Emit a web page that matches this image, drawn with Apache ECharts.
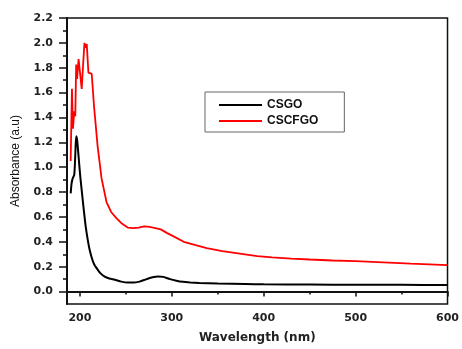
<!DOCTYPE html>
<html>
<head>
<meta charset="utf-8">
<script src="https://cdn.jsdelivr.net/npm/echarts@6/dist/echarts.min.js"></script>
<style>html,body{margin:0;padding:0;background:#fff;}#c{width:462px;height:349px;}</style>
</head>
<body>
<div id="c"></div>
<script>
// Series names
const seriesNames = ['CSGO', 'CSCFGO'];

// CSGO (black)
const csgoWl  = [190, 191, 192.2, 193.9, 194.8, 195.5, 196.1, 197, 198, 199, 200.5, 202.5, 204.5, 206.4, 208.5, 210.5, 213, 215.5, 218, 222, 227, 232, 238, 245, 252, 258, 265, 272, 279, 285, 291, 298, 305, 312, 320, 330, 350, 380, 400, 450, 500, 550, 600];
const csgoVal = [0.79, 0.87, 0.91, 0.94, 1.06, 1.19, 1.25, 1.22, 1.14, 1.05, 0.92, 0.78, 0.64, 0.52, 0.42, 0.34, 0.27, 0.22, 0.19, 0.15, 0.12, 0.105, 0.095, 0.08, 0.072, 0.072, 0.08, 0.098, 0.115, 0.122, 0.118, 0.10, 0.087, 0.078, 0.073, 0.069, 0.064, 0.06, 0.058, 0.056, 0.055, 0.054, 0.053];

// CSCFGO (red)
const cscfgoWl  = [190, 191.4, 192.5, 193.9, 195, 196, 197, 198.6, 200.3, 202, 203.5, 205, 206.3, 207.5, 209.3, 211, 212.9, 215.4, 219.3, 223.6, 229, 234, 239.7, 246, 252, 258, 264, 270, 276, 282, 288, 295, 303, 313, 325, 338, 355, 374, 393, 409, 430, 450, 475, 500, 530, 560, 600];
const cscfgoVal = [1.05, 1.63, 1.31, 1.45, 1.41, 1.825, 1.71, 1.87, 1.75, 1.63, 1.82, 2.00, 1.96, 1.99, 1.76, 1.77, 1.75, 1.49, 1.17, 0.91, 0.72, 0.64, 0.59, 0.545, 0.515, 0.51, 0.515, 0.525, 0.52, 0.51, 0.50, 0.47, 0.44, 0.40, 0.375, 0.35, 0.325, 0.305, 0.285, 0.275, 0.265, 0.258, 0.25, 0.245, 0.235, 0.225, 0.213];

// Tick labels
const xTicks = [200, 300, 400, 500, 600];
const xMinorTicks = [250, 350, 450, 550];
const yTicks = [0.0, 0.2, 0.4, 0.6, 0.8, 1.0, 1.2, 1.4, 1.6, 1.8, 2.0, 2.2];
const yMinorTicks = [0.1, 0.3, 0.5, 0.7, 0.9, 1.1, 1.3, 1.5, 1.7, 1.9, 2.1];

const xMin = 186, xMax = 600, yMin = -0.1, yMax = 2.2;

function pairs(xs, ys) { return xs.map((x, i) => [x, ys[i]]); }

const tickFont = { fontFamily: 'DejaVu Sans', fontWeight: 'bold', fontSize: 11, color: '#222' };

const chart = echarts.init(document.getElementById('c'));
chart.setOption({
  animation: false,
  backgroundColor: '#fff',
  grid: { left: 67, right: 9, top: 18, bottom: 42, show: true, borderColor: '#111', borderWidth: 1.5, containLabel: false },
  legend: {
    orient: 'vertical', left: 205, top: 92,
    padding: [6, 26, 4, 14],
    icon: 'rect',
    itemWidth: 43, itemHeight: 2, itemGap: 2,
    borderColor: '#666', borderWidth: 1, backgroundColor: '#fff',
    textStyle: { fontFamily: 'Liberation Sans', fontWeight: 'bold', fontSize: 12, color: '#111', lineHeight: 14 },
    data: seriesNames
  },
  xAxis: [{
    type: 'value', min: xMin, max: xMax, position: 'bottom',
    name: 'Wavelength (nm)', nameLocation: 'middle', nameGap: 28,
    nameTextStyle: { fontFamily: 'DejaVu Sans', fontWeight: 'bold', fontSize: 12, color: '#222' },
    axisLine: { show: true, lineStyle: { color: '#111', width: 2 } },
    axisTick: { show: true, length: 5, customValues: xTicks, lineStyle: { color: '#111', width: 1.5 } },
    axisLabel: Object.assign({ margin: 9, customValues: xTicks }, tickFont),
    splitLine: { show: false }
  }, {
    type: 'value', min: xMin, max: xMax, position: 'bottom',
    axisLine: { show: false },
    axisTick: { show: true, length: 3, customValues: xMinorTicks, lineStyle: { color: '#111', width: 1.5 } },
    axisLabel: { show: false },
    splitLine: { show: false }
  }],
  yAxis: [{
    type: 'value', min: yMin, max: yMax, position: 'left',
    name: 'Absorbance (a.u)', nameLocation: 'middle', nameGap: 45,
    nameTextStyle: { fontFamily: 'Liberation Sans', fontSize: 12, color: '#111' },
    axisLine: { show: true, lineStyle: { color: '#111', width: 2 } },
    axisTick: { show: true, length: 8, customValues: yTicks, lineStyle: { color: '#111', width: 1.5 } },
    axisLabel: Object.assign({ margin: 14, customValues: yTicks, formatter: v => Number(v).toFixed(1) }, tickFont),
    splitLine: { show: false }
  }, {
    type: 'value', min: yMin, max: yMax, position: 'left',
    axisLine: { show: false },
    axisTick: { show: true, length: 4, customValues: yMinorTicks, lineStyle: { color: '#111', width: 1.5 } },
    axisLabel: { show: false },
    splitLine: { show: false }
  }],
  series: [{
    name: seriesNames[0], type: 'line', xAxisIndex: 0, yAxisIndex: 0,
    symbol: 'none', smooth: 0.2,
    lineStyle: { color: '#000', width: 2 }, itemStyle: { color: '#000' },
    data: pairs(csgoWl, csgoVal)
  }, {
    name: seriesNames[1], type: 'line', xAxisIndex: 0, yAxisIndex: 0,
    symbol: 'none', smooth: false,
    lineStyle: { color: '#ff0000', width: 1.8 }, itemStyle: { color: '#ff0000' },
    data: pairs(cscfgoWl, cscfgoVal)
  }]
});
</script>
</body>
</html>
